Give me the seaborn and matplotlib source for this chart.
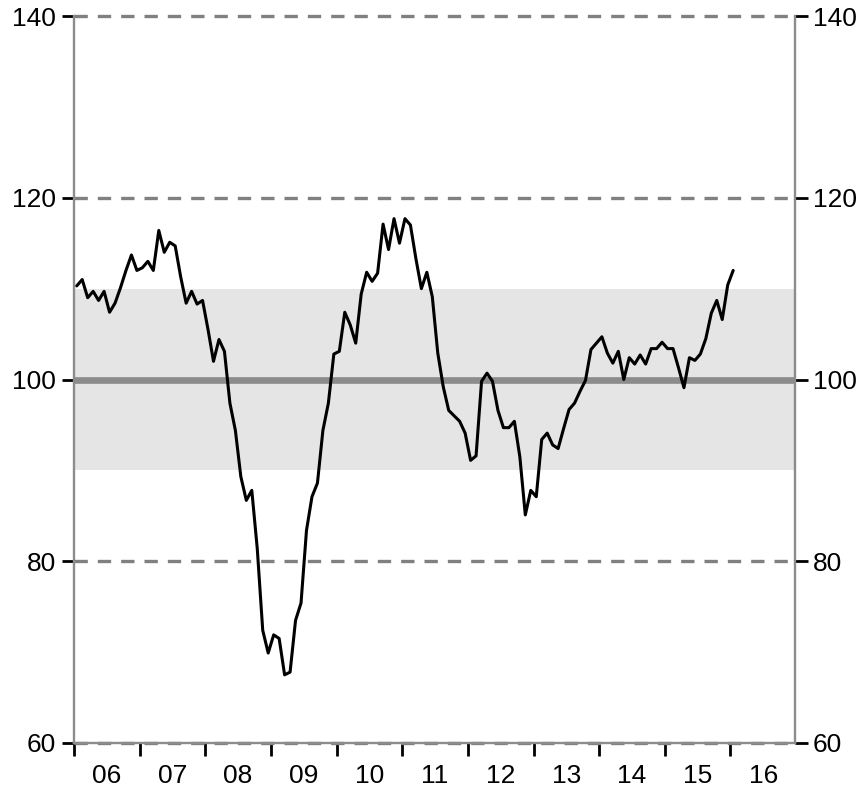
import seaborn as sns
import pandas as pd
import numpy as np
import matplotlib.pyplot as plt
from matplotlib.ticker import FixedLocator, NullFormatter, FixedFormatter

# monthly index, Jan 2006 .. Jan 2016
values = [110.3, 111.0, 109.0, 109.7, 108.7, 109.7, 107.4, 108.4, 110.1, 112.0, 113.7, 112.0,
          112.3, 113.0, 112.0, 116.4, 114.0, 115.1, 114.7, 111.3, 108.4, 109.7, 108.3, 108.7,
          105.5, 102.0, 104.4, 103.1, 97.4, 94.4, 89.3, 86.7, 87.8, 81.4, 72.4, 69.9,
          71.9, 71.5, 67.5, 67.8, 73.5, 75.4, 83.4, 87.1, 88.6, 94.4, 97.4, 102.8,
          103.1, 107.4, 106.0, 104.0, 109.4, 111.8, 110.8, 111.7, 117.1, 114.3, 117.7, 115.0,
          117.7, 117.0, 113.3, 110.0, 111.8, 109.1, 102.9, 99.2, 96.6, 96.0, 95.4, 94.1,
          91.1, 91.6, 99.8, 100.7, 99.8, 96.6, 94.7, 94.7, 95.4, 91.5, 85.1, 87.8,
          87.1, 93.4, 94.1, 92.8, 92.4, 94.6, 96.7, 97.4, 98.7, 99.9, 103.3, 104.0,
          104.7, 102.9, 101.8, 103.1, 100.0, 102.4, 101.7, 102.7, 101.7, 103.4, 103.4, 104.1,
          103.4, 103.4, 101.3, 99.1, 102.4, 102.1, 102.8, 104.5, 107.3, 108.7, 106.6, 110.4,
          112.0]
year_labels = ['06', '07', '08', '09', '10', '11', '12', '13', '14', '15', '16']
y_ticks = [60, 80, 100, 120, 140]
band = (90, 110)

df = pd.DataFrame({'month': np.arange(len(values)) + 0.5, 'value': values})

sns.set_style('white')
plt.rcParams['font.family'] = ['Liberation Sans', 'DejaVu Sans']

fig = plt.figure(figsize=(8.64, 7.89), dpi=100)
ax = fig.add_axes([74/864, 1-743/789, (795-74)/864, (743-16)/789])

grey = '#8c8c8c'
ax.axhspan(band[0], band[1], color='#e5e5e5', lw=0, zorder=0)
for yv in [60, 80, 120, 140]:
    ax.axhline(yv, color='#808080', lw=2.4, dashes=(4, 3), zorder=1, clip_on=False)
ax.axhline(100, color=grey, lw=4.8, zorder=2)

sns.lineplot(data=df, x='month', y='value', color='black', lw=2.2, ax=ax, zorder=3)

ax.set_xlim(0, 131.8)
ax.set_ylim(60, 140)
ax.set_xlabel('')
ax.set_ylabel('')

for s in ['left', 'right', 'bottom']:
    ax.spines[s].set_color(grey)
    ax.spines[s].set_linewidth(1.7)
ax.spines['top'].set_visible(False)

ax.xaxis.set_major_locator(FixedLocator(np.arange(0, 121, 12)))
ax.xaxis.set_major_formatter(NullFormatter())
ax.xaxis.set_minor_locator(FixedLocator(np.arange(6, 127, 12)))
ax.xaxis.set_minor_formatter(FixedFormatter(year_labels))
ax.tick_params(axis='x', which='major', direction='out', length=9, width=2, color='black', bottom=True)
ax.tick_params(axis='x', which='minor', length=0, pad=15, labelsize=19, labelcolor='black', bottom=True)

ax.set_yticks(y_ticks)
ax.tick_params(axis='y', which='major', direction='out', length=9, width=2, color='black',
               labelsize=19, labelcolor='black', left=True, right=True,
               labelleft=True, labelright=True, pad=4)

fig.savefig('out.png', dpi=100)
